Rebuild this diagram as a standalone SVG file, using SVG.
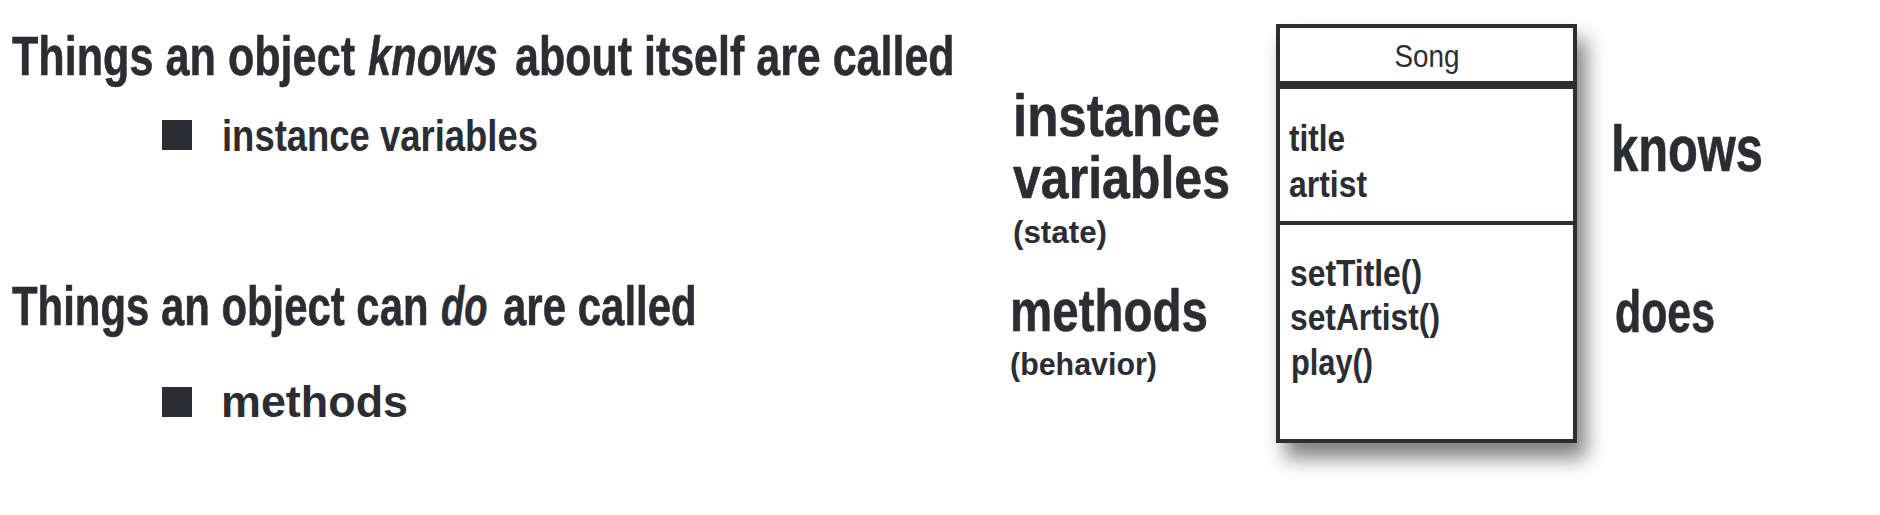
<svg xmlns="http://www.w3.org/2000/svg" width="1880" height="515" viewBox="0 0 1880 515">
<defs>
<filter id="shadow" x="-20%" y="-20%" width="150%" height="150%">
<feDropShadow dx="9" dy="15" stdDeviation="10" flood-color="#000" flood-opacity="0.5"/>
</filter>
<style>
.hand{font-family:"Liberation Sans",Arial,sans-serif;font-weight:bold;fill:#2b2d33;stroke:#2b2d33;stroke-width:0.6;stroke-linejoin:round}
.it{font-style:italic}
.sans{font-family:"Liberation Sans",Arial,sans-serif;fill:#2b2d33}
.b{font-weight:bold}
.bullet{fill:#2b2d33}
.box{fill:#fff;stroke:#2c2e35;stroke-width:4}
.sep{stroke:#2c2e35;stroke-width:4}
</style>
</defs>
<rect width="1880" height="515" fill="#fff"/>

<g id="heading-knows">
<text class="hand" transform="translate(12,75) scale(0.771,1)" font-size="56">Things an object</text>
<text class="hand it" transform="translate(368,75) scale(0.745,1)" font-size="56">knows</text>
<text class="hand" transform="translate(515,75) scale(0.768,1)" font-size="56">about itself are called</text>
</g>

<g id="bullet-instance-variables">
<rect class="bullet" x="162" y="120" width="30" height="30"/>
<text class="sans b" x="222" y="151" font-size="45" textLength="316" lengthAdjust="spacingAndGlyphs">instance variables</text>
</g>

<g id="heading-does">
<text class="hand" transform="translate(12,325) scale(0.748,1)" font-size="56">Things an object can</text>
<text class="hand it" transform="translate(441,325) scale(0.68,1)" font-size="56">do</text>
<text class="hand" transform="translate(503,325) scale(0.75,1)" font-size="56">are called</text>
</g>

<g id="bullet-methods">
<rect class="bullet" x="162" y="387" width="30" height="30"/>
<text class="sans b" x="221" y="417" font-size="45" textLength="187" lengthAdjust="spacingAndGlyphs">methods</text>
</g>

<g id="label-instance-variables">
<text class="hand" x="1013" y="136" font-size="59" textLength="207" lengthAdjust="spacingAndGlyphs">instance</text>
<text class="hand" x="1013" y="198" font-size="59" textLength="217" lengthAdjust="spacingAndGlyphs">variables</text>
<text class="sans b" x="1013" y="243" font-size="31" textLength="94" lengthAdjust="spacingAndGlyphs">(state)</text>
</g>

<g id="label-methods">
<text class="hand" x="1010" y="331" font-size="59" textLength="198" lengthAdjust="spacingAndGlyphs">methods</text>
<text class="sans b" x="1010" y="375" font-size="31" textLength="147" lengthAdjust="spacingAndGlyphs">(behavior)</text>
</g>

<g id="class-song">
<rect class="box" x="1278" y="26" width="297" height="415" filter="url(#shadow)"/>
<rect x="1278" y="81" width="297" height="8" fill="#2c2e35"/>
<line class="sep" x1="1278" y1="223" x2="1575" y2="223"/>
<text class="sans" x="1427" y="67" font-size="31" text-anchor="middle" textLength="65" lengthAdjust="spacingAndGlyphs">Song</text>
<text class="sans b" x="1289" y="151" font-size="36" textLength="56" lengthAdjust="spacingAndGlyphs">title</text>
<text class="sans b" x="1289" y="197" font-size="36" textLength="78" lengthAdjust="spacingAndGlyphs">artist</text>
<text class="sans b" x="1290" y="286" font-size="36" textLength="132" lengthAdjust="spacingAndGlyphs">setTitle()</text>
<text class="sans b" x="1290" y="330" font-size="36" textLength="150" lengthAdjust="spacingAndGlyphs">setArtist()</text>
<text class="sans b" x="1291" y="375" font-size="36" textLength="82" lengthAdjust="spacingAndGlyphs">play()</text>
</g>

<g id="label-knows">
<text class="hand" x="1611" y="171" font-size="64" textLength="152" lengthAdjust="spacingAndGlyphs">knows</text>
</g>

<g id="label-does">
<text class="hand" x="1615" y="332" font-size="60" textLength="100" lengthAdjust="spacingAndGlyphs">does</text>
</g>

<g id="connectors"/>
</svg>
